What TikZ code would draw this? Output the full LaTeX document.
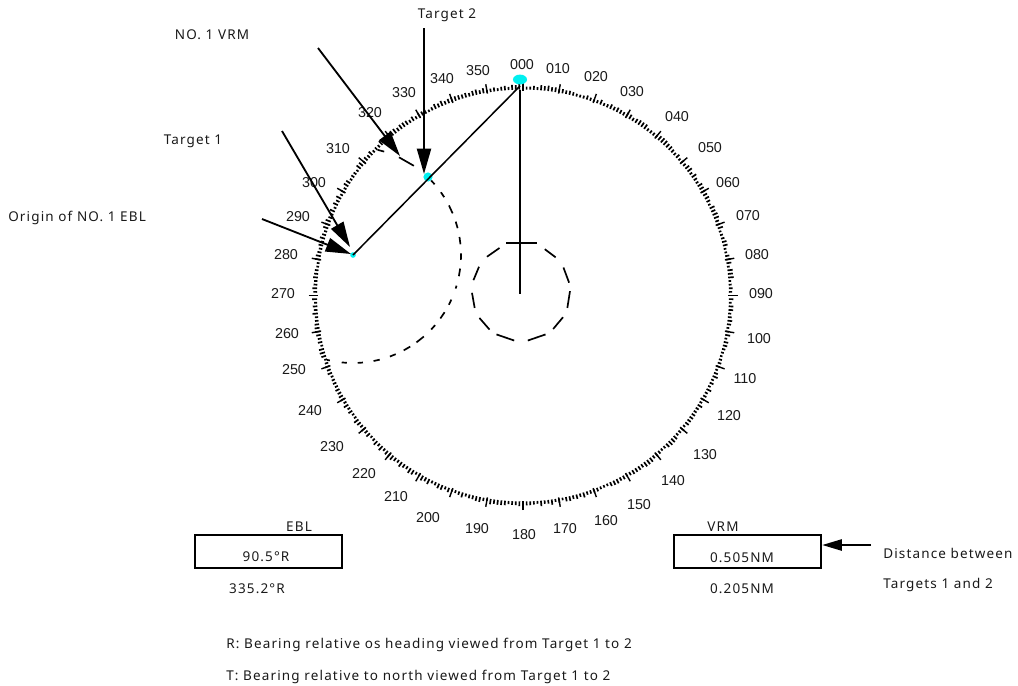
\documentclass[tikz,border=0pt]{standalone}
\usepackage{fontspec}
\setmainfont{Liberation Sans}
\newfontfamily\notefont[LetterSpace=8.5]{Noto Sans}
\usetikzlibrary{arrows.meta, shapes.geometric}
\definecolor{dotcyan}{RGB}{0,240,240}
\tikzset{
  bearing/.style={font=\fontsize{10.2}{12}\selectfont, inner sep=0pt, text=black!90},
  note/.style={font=\notefont\fontsize{9.6}{11}\selectfont, inner sep=0pt, text=black!90},
  callout/.style={-{Triangle[length=18pt, width=10pt]}, line width=1.3pt},
  readout/.style={draw, line width=1.3pt, minimum width=105pt, minimum height=23.5pt, inner sep=0pt},
  chord/.style={line width=1.2pt},
  tick/.style={line width=1.2pt},
}
\pgfmathsetseed{7}
\begin{document}
\begin{tikzpicture}[x=0.025cm, y=-0.025cm]
\useasboundingbox (0,0) rectangle (1018,685);

% bearing ring
\coordinate (ringc) at (523,295.5);
\foreach \a in {0,...,359} {
  \pgfmathsetmacro{\rout}{208.5+3*rnd}
  \draw[tick] ([shift={(90-\a:\rout\space and -\rout)}]ringc) -- ([shift={(90-\a:206 and -206)}]ringc);
}
\foreach \a in {0,10,...,350}
  \draw[line width=1pt] ([shift={(90-\a:214.5 and -214.5)}]ringc) -- ([shift={(90-\a:205 and -205)}]ringc);

% bearing labels
\foreach \lab/\x/\y in {000/522/65, 010/558/69, 020/596/77, 030/632/92, 040/677/117, 050/710/148,
    060/728/183, 070/748/216, 080/757/255, 090/761/294, 100/759/339, 110/745/379,
    120/729/416, 130/705/455, 140/673/481, 150/639/505, 160/606/521, 170/565/529,
    180/524/535, 190/477/529, 200/428/518, 210/396/497, 220/364/474, 230/332/447,
    240/310/411, 250/294/370, 260/287/334, 270/283/294, 280/286/255, 290/298/217,
    300/314/183, 310/338/149, 320/370/113, 330/404/93, 340/442/79, 350/478/71}
  \node[bearing] (b\lab) at (\x,\y) {\lab};

% own ship
\node[ellipse, fill=dotcyan, inner sep=0pt, minimum width=10pt, minimum height=7pt] (hdg) at (520,79.5) {};
\coordinate (own) at (521,292);
\coordinate (bow) at (520,86);
\draw[line width=1.1pt] (520,90) -- (520,294);
\draw[line width=1.1pt] (506,243) -- (537,243);
\foreach \a/\b in {61/45, 30/11, 1/-19, -31/-49, -60/-82, -98/-120, -130/-148, -161/-179, 166/149, 134/116}
  \draw[chord] ([shift={(\a:49 and -49)}]own) -- ([shift={(\b:49 and -49)}]own);

% targets and EBL
\node[circle, fill=dotcyan, inner sep=0pt, minimum size=4pt] (tgta) at (353,255) {};
\node[circle, fill=dotcyan, inner sep=0pt, minimum size=6.5pt] (tgtb) at (428,177) {};
\draw[line width=1.1pt] (tgta.center) -- (bow);

% VRM arc
\foreach \a/\b in {76.8/73.2, 64.8/55.7, 43.6/40.9, 35.5/32.4, 27.3/22.7, 18/14.4, 9.6/5.7, 0.9/-2.6,
    -7.2/-11.3, -16.5/-18.1, -24.4/-27.4, -32/-36, -40.5/-43.6, -49/-54, -58/-62, -66.7/-70,
    -75.7/-79, -84.7/-87.5, -93.3/-96, -102.4/-104}
  \draw[chord] ([shift={(\a:108 and -108)}]tgta.center) -- ([shift={(\b:108 and -108)}]tgta.center);

% callouts
\node[note] (lvrm) at (212,35) {NO. 1 VRM};
\node[note] (ltwo) at (447,15) {Target 2};
\node[note] (lone) at (193,141) {Target 1};
\node[note, anchor=west] (lorg) at (8,218) {Origin of NO. 1 EBL};
\coordinate (vrmfrom) at (318,48);
\coordinate (vrmtip) at (400,156);
\coordinate (twofrom) at (424,28);
\coordinate (twotip) at (424,174);
\coordinate (onefrom) at (282,131);
\coordinate (onetip) at (350,247);
\coordinate (orgfrom) at (262,219);
\coordinate (orgtip) at (351,254);
\draw[callout] (vrmfrom) -- (vrmtip);
\draw[callout] (twofrom) -- (twotip);
\draw[callout] (onefrom) -- (onetip);
\draw[callout] (orgfrom) -- (orgtip);

% readouts
\node[readout] (eblbox) at (268.5,551.5) {};
\node[readout] (vrmbox) at (747.5,551.5) {};
\node[note] (ebltitle) at (299,527) {EBL};
\node[note] (eblrel) at (266,557) {90.5°R};
\node[note] (ebltrue) at (257,589) {335.2°R};
\node[note] (vrmtitle) at (723,527) {VRM};
\node[note] (vrmnow) at (742,558) {0.505NM};
\node[note] (vrmold) at (742,589) {0.205NM};
\node[note, anchor=west] (ldist) at (883,553) {Distance between};
\node[note, anchor=west] (ldisb) at (883,585) {Targets 1 and 2};
\coordinate (distfrom) at (871,545);
\draw[callout, -{Triangle[length=14pt, width=8pt]}] (distfrom) -- (vrmbox.east |- distfrom);

% legend
\node[note, anchor=west] (keyr) at (226,645) {R: Bearing relative os heading viewed from Target 1 to 2};
\node[note, anchor=west] (keyt) at (226,677) {T: Bearing relative to north viewed from Target 1 to 2};
\end{tikzpicture}
\end{document}
